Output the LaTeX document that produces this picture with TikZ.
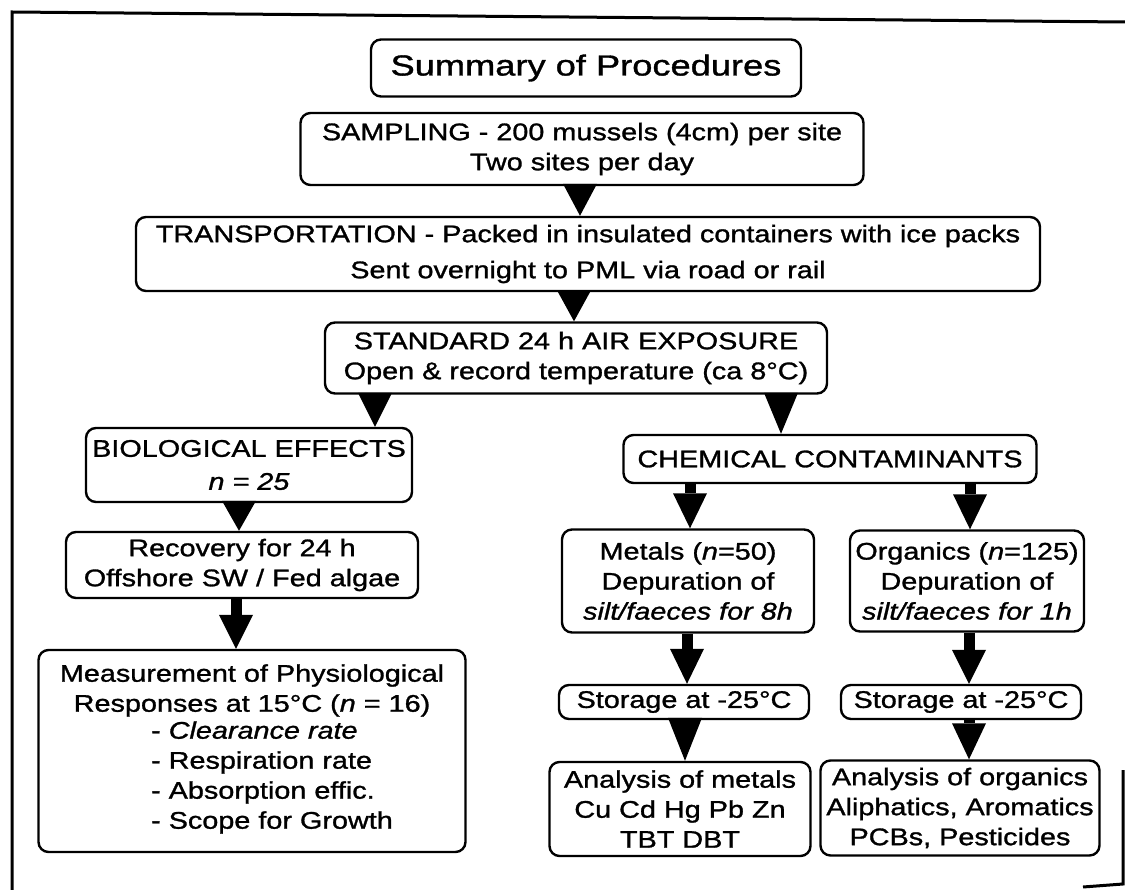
\documentclass[tikz,border=0pt]{standalone}
\usepackage{fontspec}
\setmainfont{Liberation Sans}[FakeStretch=1.2, FakeBold=1.2]
\newfontfamily\titlefont{Liberation Sans}[FakeStretch=1.25, FakeBold=1.2]
\usetikzlibrary{arrows.meta}

\tikzset{
  box/.style={draw, line width=2.4pt, rounded corners=10pt, inner sep=0pt,
    align=center, font=\fontsize{24}{30}\selectfont},
  flow/.style={line width=11pt, -{Triangle[length=#1 0 0, width=34pt 0 0, line width=0pt 0 0]}},
  frame/.style={line width=3pt},
}

\begin{document}
\begin{tikzpicture}[x=1pt, y=-1pt]
\useasboundingbox (0,0) rectangle (1125,890);

% frame of the scanned page
\draw[frame] (1125,22) -- (12,12) -- (12,890);
\draw[frame] (1123,770) -- (1123,884) -- (1083,887);

\node[box, minimum width=430pt, minimum height=57pt, font=\titlefont\fontsize{29}{34}\selectfont] (title) at (586,68) {Summary of Procedures};
\node[box, minimum width=563pt, minimum height=72pt] (sampling) at (582,149) {SAMPLING - 200 mussels (4cm) per site\\Two sites per day};
\node[box, minimum width=904pt, minimum height=74pt] (transport) at (588,254) {TRANSPORTATION - Packed in insulated containers with ice packs\\[6pt]Sent overnight to PML via road or rail};
\node[box, minimum width=502pt, minimum height=71pt] (standard) at (576,358) {STANDARD 24 h AIR EXPOSURE\\Open \& record temperature (ca 8°C)};

% left branch
\node[box, minimum width=326pt, minimum height=74pt] (bio) at (249,465) {BIOLOGICAL EFFECTS\\[3pt]\textit{n = 25}};
\node[box, minimum width=352pt, minimum height=66pt] (recovery) at (242,565) {Recovery for 24 h\\Offshore SW / Fed algae};
\node[box, minimum width=427pt, minimum height=202pt] (measure) at (252,751) {Measurement of Physiological\\Responses at 15°C (\textit{n} = 16)\\
  \begin{tabular}{@{}l@{}}- \textit{Clearance rate}\\- Respiration rate\\- Absorption effic.\\- Scope for Growth\end{tabular}\hspace*{-40pt}};

% right branch
\node[box, minimum width=413pt, minimum height=48pt] (chem) at (830,459) {CHEMICAL CONTAMINANTS};
\node[box, minimum width=252pt, minimum height=103pt] (metals) at (688,581) {Metals (\textit{n}=50)\\Depuration of\\\textit{silt/faeces for 8h}};
\node[box, minimum width=234pt, minimum height=101pt] (organics) at (967,581) {Organics (\textit{n}=125)\\Depuration of\\\textit{silt/faeces for 1h}};
\node[box, minimum width=250pt, minimum height=34pt] (storemetals) at (684,702) {Storage at -25°C};
\node[box, minimum width=240pt, minimum height=34pt] (storeorganics) at (961,702) {Storage at -25°C};
\node[box, minimum width=261pt, minimum height=94pt] (anametals) at (680,809) {Analysis of metals\\Cu Cd Hg Pb Zn\\TBT DBT};
\node[box, minimum width=279pt, minimum height=95pt] (anaorganics) at (960,808) {Analysis of organics\\Aliphatics, Aromatics\\PCBs, Pesticides};

% arrows
\draw[flow=32pt] ([xshift=-2pt]sampling.south) -- ([xshift=-8pt]transport.north);
\draw[flow=31pt] ([xshift=-14pt]transport.south) -- ([xshift=-2pt]standard.north);
\draw[flow=34pt] ([xshift=-201pt]standard.south) -- ([xshift=126pt]bio.north);
\draw[flow=41pt] ([xshift=205pt]standard.south) -- ([xshift=-49pt]chem.north);
\draw[flow=30pt] ([xshift=-10pt]bio.south) -- ([xshift=-3pt]recovery.north);
\draw[flow=34pt] ([xshift=-6pt]recovery.south) -- ([xshift=-16pt]measure.north);
\draw[flow=35pt] ([xshift=-140pt]chem.south) -- ([xshift=2pt]metals.north);
\draw[flow=35pt] ([xshift=140pt]chem.south) -- ([xshift=3pt]organics.north);
\draw[flow=35pt] ([xshift=-1pt]metals.south) -- ([xshift=3pt]storemetals.north);
\draw[flow=34pt] ([xshift=2pt]organics.south) -- ([xshift=8pt]storeorganics.north);
\draw[flow=43pt] ([xshift=1pt]storemetals.south) -- ([xshift=5pt]anametals.north);
\draw[flow=36pt] ([xshift=8pt]storeorganics.south) -- ([xshift=9pt]anaorganics.north);
\end{tikzpicture}
\end{document}
